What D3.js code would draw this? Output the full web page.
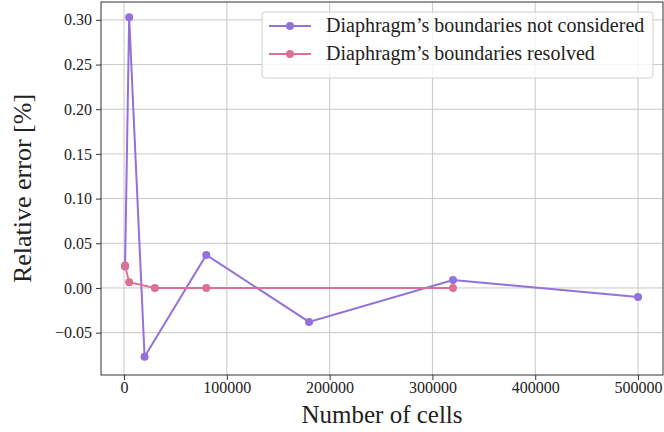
<!DOCTYPE html>
<html>
<head>
<meta charset="utf-8">
<script src="https://d3js.org/d3.v7.min.js"></script>
<style>
body{margin:0;background:#fff;}
text{font-family:"Liberation Serif","DejaVu Serif",serif;fill:#222;}
</style>
</head>
<body>
<script>
var w=664, h=432;
var margin={left:101,right:1,top:2,bottom:57};

// data
var cellsNotConsidered=[1000,5000,20000,80000,180000,320000,500000];
var errNotConsidered=[0.024,0.303,-0.077,0.037,-0.038,0.0088,-0.010];
var cellsResolved=[1000,5000,30000,80000,320000];
var errResolved=[0.025,0.0065,0.0,0.0,0.0];
var xTicks=[0,100000,200000,300000,400000,500000];
var yTicks=[-0.05,0,0.05,0.10,0.15,0.20,0.25,0.30];
var seriesNames=["Diaphragm\u2019s boundaries not considered","Diaphragm\u2019s boundaries resolved"];
var colors=["#9370db","#db7093"];

var series=[
  cellsNotConsidered.map(function(c,i){return {x:c,y:errNotConsidered[i]};}),
  cellsResolved.map(function(c,i){return {x:c,y:errResolved[i]};})
];

var svg=d3.select("body").append("svg").attr("width",w).attr("height",h);

var x=d3.scaleLinear().domain([-22400,524300]).range([margin.left,w-margin.right]);
var y=d3.scaleLinear().domain([-0.0974,0.320]).range([h-margin.bottom,margin.top]);

// grid
svg.append("g").selectAll("line").data(xTicks).enter().append("line")
  .attr("x1",d=>x(d)).attr("x2",d=>x(d))
  .attr("y1",y.range()[0]).attr("y2",y.range()[1])
  .attr("stroke","#c8c8c8").attr("stroke-width",1);
svg.append("g").selectAll("line").data(yTicks).enter().append("line")
  .attr("y1",d=>y(d)).attr("y2",d=>y(d))
  .attr("x1",x.range()[0]).attr("x2",x.range()[1])
  .attr("stroke","#c8c8c8").attr("stroke-width",1);

// axes
var xAxis=svg.append("g").attr("transform","translate(0,"+(h-margin.bottom)+")")
  .call(d3.axisBottom(x).tickValues(xTicks).tickFormat(d3.format("d")).tickSizeOuter(0).tickSize(5).tickPadding(2));
var yAxis=svg.append("g").attr("transform","translate("+margin.left+",0)")
  .call(d3.axisLeft(y).tickValues(yTicks).tickFormat(function(d){return d3.format(".2f")(d).replace("-","\u2212");}).tickSizeOuter(0).tickSize(5).tickPadding(4));
[xAxis,yAxis].forEach(function(a){
  a.select(".domain").remove();
  a.selectAll(".tick line").attr("stroke","#333");
  a.selectAll(".tick text").attr("fill","#222").style("font-size","16px");
});

// frame
svg.append("rect").attr("x",x.range()[0]).attr("y",y.range()[1])
  .attr("width",x.range()[1]-x.range()[0]).attr("height",y.range()[0]-y.range()[1])
  .attr("fill","none").attr("stroke","#333").attr("stroke-width",1);

// lines and markers
var line=d3.line().x(d=>x(d.x)).y(d=>y(d.y));
series.forEach(function(s,i){
  svg.append("path").datum(s).attr("d",line).attr("fill","none")
    .attr("stroke",colors[i]).attr("stroke-width",2);
  svg.append("g").selectAll("circle").data(s).enter().append("circle")
    .attr("cx",d=>x(d.x)).attr("cy",d=>y(d.y)).attr("r",4).attr("fill",colors[i]);
});

// labels
svg.append("text").attr("x",(x.range()[0]+x.range()[1])/2).attr("y",423)
  .attr("text-anchor","middle").style("font-size","25px").text("Number of cells");
svg.append("text").attr("transform","translate(31,"+((y.range()[0]+y.range()[1])/2)+") rotate(-90)")
  .attr("text-anchor","middle").style("font-size","26px").text("Relative error [%]");

// legend
var lg=svg.append("g").attr("transform","translate(262,12)");
lg.append("rect").attr("width",391).attr("height",66).attr("rx",3)
  .attr("fill","#fff").attr("fill-opacity",0.8).attr("stroke","#d0d0d0");
seriesNames.forEach(function(n,i){
  var yy=14+i*28;
  lg.append("line").attr("x1",7).attr("x2",49).attr("y1",yy).attr("y2",yy)
    .attr("stroke",colors[i]).attr("stroke-width",2);
  lg.append("circle").attr("cx",28).attr("cy",yy).attr("r",4).attr("fill",colors[i]);
  lg.append("text").attr("x",64).attr("y",yy+6).style("font-size","20px").text(n);
});
</script>
</body>
</html>
